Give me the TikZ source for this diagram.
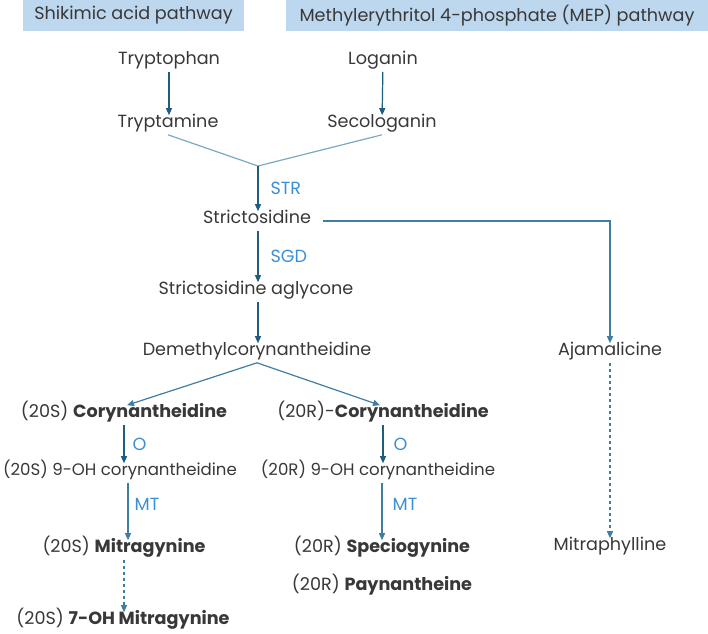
\documentclass[tikz,border=0pt]{standalone}
\usepackage{fontspec}
\setmainfont{Poppins}
\usepackage{tikz}
\usetikzlibrary{calc,arrows.meta}
\tikzset{>={Triangle[length=7pt,width=6pt]}}

\definecolor{hdrblue}{HTML}{BDD7EE}
\definecolor{arrdark}{HTML}{1F5C7E}
\definecolor{arrmid}{HTML}{3F7EA2}
\definecolor{arrlight}{HTML}{7AA9C4}
\definecolor{enzblue}{HTML}{3B8FD4}
\definecolor{txtgray}{HTML}{383838}

\tikzset{
  cmpd/.style={text=txtgray, inner sep=5pt, text height=0.72em, text depth=0.2em},
  narrow/.style={font=\fontsize{16.6}{20}\selectfont},
  header/.style={fill=hdrblue, text=txtgray, inner sep=0pt, minimum height=31pt},
  enz/.style={text=enzblue, inner sep=2pt},
  step arrow/.style={->, line width=1.2pt, arrdark},
  soft arrow/.style={->, line width=1.2pt, arrmid},
  merge line/.style={line width=1.2pt, arrlight}
}

\begin{document}
\begin{tikzpicture}[x=1pt, y=-1pt, font=\fontsize{17.6}{21}\selectfont]

            \useasboundingbox (0,0) rectangle (708,633);

            % Pathway headers
            \node[header, minimum width=221pt] (hshk) at (133.5,15.5) {Shikimic acid pathway};
            \node[header, minimum width=422pt] (hmep) at (497,15.5) {Methylerythritol 4-phosphate (MEP) pathway};

            % Precursors
            \node[cmpd] (trp) at (169,62) {Tryptophan};
            \node[cmpd] (log) at (383,62) {Loganin};
            \node[cmpd] (trm) at (168,125) {Tryptamine};
            \node[cmpd] (sec) at (382,125) {Secologanin};
            \coordinate (junc) at (258,166);

            % Main chain
            \node[cmpd] (str) at (257,221) {Strictosidine};
            \node[cmpd] (agl) at (256,292) {Strictosidine aglycone};
            \node[cmpd] (dmc) at (257,353) {Demethylcorynantheidine};
            \node[cmpd] (ajm) at (610,353) {Ajamalicine};
            \node[cmpd] (mph) at (610,548) {Mitraphylline};

            % (20S) branch
            \node[cmpd] (c20s) at (124,415) {(20S) \textbf{Corynantheidine}};
            \node[cmpd, narrow] (h20s) at (120,473) {(20S) 9-OH corynantheidine};
            \node[cmpd] (mit) at (124,550) {(20S) \textbf{Mitragynine}};
            \node[cmpd] (ohm) at (123,622) {(20S) \textbf{7-OH Mitragynine}};

            % (20R) branch
            \node[cmpd] (c20r) at (383,415) {(20R)-\textbf{Corynantheidine}};
            \node[cmpd, narrow] (h20r) at (378,473) {(20R) 9-OH corynantheidine};
            \node[cmpd] (spc) at (382,550) {(20R) \textbf{Speciogynine}};
            \node[cmpd] (pay) at (382,588) {(20R) \textbf{Paynantheine}};

            % Arrows of the upper part
            \draw[step arrow] (trp.south) -- (trp.south |- trm.north);
            \draw[step arrow] (log) -- (sec);
            \draw[merge line] (trm.south) -- (junc) -- (sec.south);
            \draw[step arrow] (junc) -- (junc |- str.north) node[enz, midway, right, xshift=10pt] {STR};
            \draw[step arrow] (junc |- str.south) -- (junc |- agl.north) node[enz, midway, right, xshift=10pt] {SGD};
            \draw[step arrow] (junc |- agl.south) -- (junc |- dmc.north);
            \draw[soft arrow, shorten <=7pt] (str.east) -| (ajm.north);
            \draw[soft arrow, dashed] (ajm.south) -- (mph.north);

            % Branching to the two epimers
            \draw[soft arrow] (dmc.south) -- ([xshift=3pt]c20s.north);
            \draw[soft arrow] (dmc.south) -- ([xshift=-3pt]c20r.north);

            % (20S) steps
            \draw[step arrow] (c20s.south) -- (c20s.south |- h20s.north) node[enz, midway, right, xshift=6pt] {O};
            \draw[soft arrow] ([xshift=4pt]mit.north |- h20s.south) -- ([xshift=4pt]mit.north) node[enz, pos=0.38, right, xshift=4pt] {MT};
            \draw[soft arrow, dashed] (mit.south) -- (mit.south |- ohm.north);

            % (20R) steps
            \draw[step arrow] (c20r.south) -- (c20r.south |- h20r.north) node[enz, midway, right, xshift=8pt] {O};
            \draw[soft arrow] (spc.north |- h20r.south) -- (spc.north) node[enz, pos=0.38, right, xshift=8pt] {MT};

        \end{tikzpicture}
\end{document}
